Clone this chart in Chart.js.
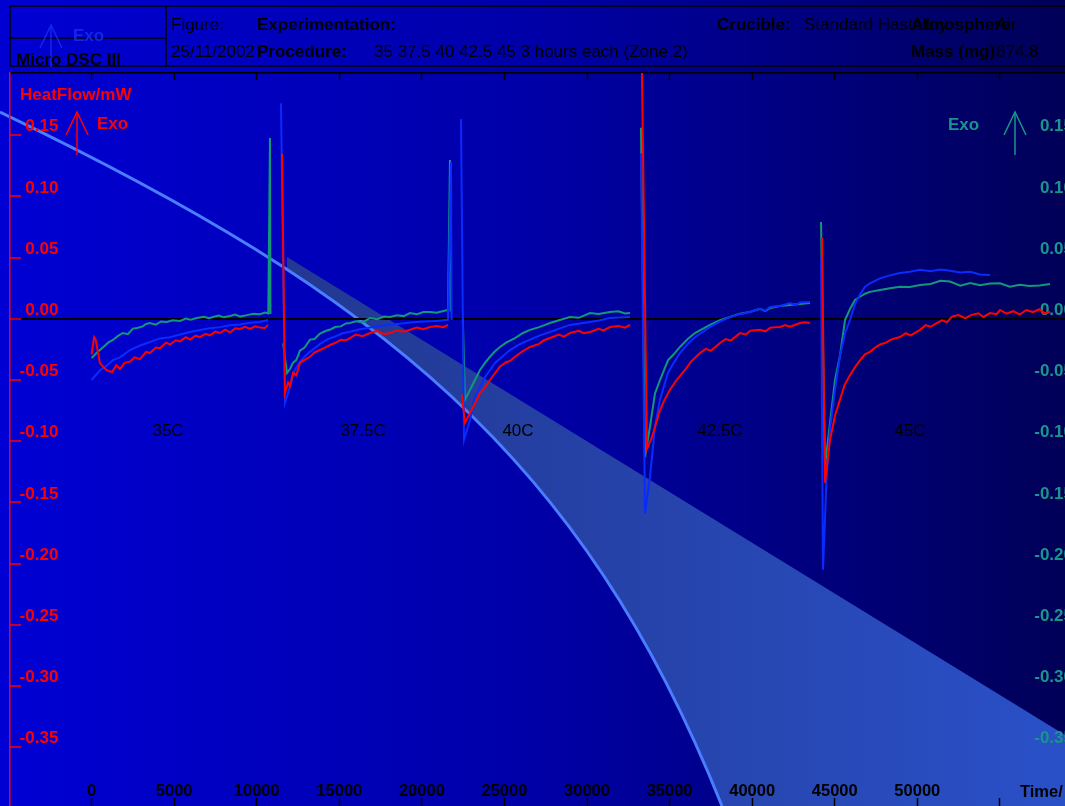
<!DOCTYPE html>
<html>
<head>
<meta charset="utf-8">
<title>Micro DSC III - isothermal steps</title>
<script src="https://cdn.jsdelivr.net/npm/chart.js@4.4.1/dist/chart.umd.min.js"></script>
<style>
  html, body { margin: 0; padding: 0; background: #0000a8; overflow: hidden; }
  #wrap { width: 1065px; height: 806px; position: relative; }
  canvas { display: block; }
</style>
</head>
<body>
<div id="wrap"><canvas id="dsc" width="1065" height="806"></canvas></div>
<script>
// ---- Heat flow traces (time in s, heat flow in mW); null breaks the line between zones ----
const redTrace = [
  [0,-0.029],[150,-0.015],[250,-0.017],[500,-0.036],[690,-0.039],[900,-0.042],[1235,-0.0435],[1500,-0.038],
  [1720,-0.041],[2000,-0.036],[2325,-0.035],[2600,-0.0315],[2931,-0.033],[3300,-0.027],[3536,-0.028],[3900,-0.0235],
  [4142,-0.024],[4500,-0.0195],[4747,-0.021],[5100,-0.0175],[5353,-0.0185],[5700,-0.015],[5959,-0.017],[6300,-0.0138],
  [6564,-0.015],[6900,-0.0122],[7170,-0.0135],[7500,-0.0105],[7775,-0.0116],[8100,-0.0088],[8381,-0.0112],[8700,-0.0078],
  [8987,-0.0083],[9300,-0.0065],[9592,-0.0083],[9900,-0.0061],[10197,-0.0072],[10500,-0.0075],[10682,-0.005],[11000,null],
  [11530,0.135],[11711,-0.0606],[11900,-0.052],[12014,-0.055],[12200,-0.044],[12400,-0.046],[12620,-0.036],[12900,-0.0335],
  [13225,-0.031],[13500,-0.0275],[13831,-0.0255],[14200,-0.0232],[14500,-0.021],[14739,-0.0198],[15100,-0.0172],[15400,-0.0175],
  [15648,-0.0157],[16000,-0.0128],[16400,-0.0142],[16859,-0.0116],[17300,-0.0098],[17700,-0.0125],[18070,-0.0116],[18500,-0.0095],
  [18900,-0.0105],[19281,-0.009],[19700,-0.0072],[20100,-0.0085],[20492,-0.0067],[20900,-0.0059],[21300,-0.0068],[21582,-0.005],[21900,null],
  [22420,-0.062],[22611,-0.085],[22914,-0.077],[23217,-0.069],[23520,-0.0606],[23823,-0.056],[24125,-0.05],[24428,-0.0445],
  [24731,-0.039],[25100,-0.0355],[25337,-0.0345],[25640,-0.031],[26100,-0.0265],[26548,-0.023],[27100,-0.0205],[27400,-0.0175],
  [27759,-0.0157],[28300,-0.0128],[28600,-0.0145],[28970,-0.0116],[29500,-0.0098],[29800,-0.0118],[30181,-0.0108],[30700,-0.0082],
  [31000,-0.0095],[31392,-0.0067],[31900,-0.0058],[32300,-0.0072],[32603,-0.005],[32900,null],
  [33269,0.26],[33632,-0.106],[33935,-0.0967],[34419,-0.0745],[34700,-0.066],[35025,-0.058],[35400,-0.0505],[35933,-0.0418],
  [36300,-0.035],[36841,-0.028],[37200,-0.0245],[37500,-0.0262],[38053,-0.0198],[38400,-0.0165],[38700,-0.0178],[39264,-0.0116],
  [39600,-0.0128],[39900,-0.0098],[40475,-0.009],[40800,-0.0102],[41100,-0.0072],[41686,-0.0067],[42000,-0.0052],[42300,-0.0064],
  [42897,-0.0034],[43200,-0.0028],[43503,-0.0034],[43800,null],
  [44230,0.066],[44411,-0.134],[44714,-0.099],[45018,-0.079],[45320,-0.066],[45600,-0.054],[45925,-0.046],[46231,-0.0395],
  [46531,-0.034],[46830,-0.029],[47136,-0.027],[47450,-0.0235],[47742,-0.021],[48100,-0.0195],[48400,-0.017],[48953,-0.0149],
  [49300,-0.0118],[49600,-0.0135],[50164,-0.009],[50500,-0.0052],[50800,-0.0065],[51200,-0.0034],[51500,-0.0012],[51800,-0.0028],
  [52100,0.0018],[52500,0.003],[52900,0.0005],[53300,0.0032],[53700,0.0045],[54000,0.0015],[54400,0.0047],[54800,0.0038],
  [55009,0.0072],[55400,0.0042],[55800,0.0062],[56200,0.0035],[56600,0.0072],[57000,0.0055],[57400,0.0078],[57700,0.0045],[58037,0.0056]
];

const greenTrace = [
  [0,-0.032],[300,-0.028],[509,-0.0255],[800,-0.022],[1000,-0.0195],[1296,-0.0173],[1600,-0.014],[1901,-0.0116],
  [2200,-0.0125],[2500,-0.008],[2749,-0.0075],[3100,-0.0062],[3300,-0.0042],[3536,-0.0034],[3900,-0.0048],[4200,-0.0022],
  [4566,-0.0026],[4900,-0.0012],[5353,-0.0018],[5700,0.0002],[6000,-0.0008],[6382,0.0007],[6800,0.0016],[7100,0.0004],
  [7352,0.0015],[7700,0.0026],[8000,0.0012],[8381,0.0023],[8700,0.0034],[9000,0.0018],[9410,0.003],[9800,0.0042],
  [10197,0.0038],[10500,0.0051],[10700,0.0044],[10803,0.1477],[10830,0.004],[11200,null],
  [11600,-0.02],[11832,-0.0443],[12014,-0.041],[12196,-0.036],[12400,-0.0335],[12620,-0.026],[12900,-0.0235],[13225,-0.017],
  [13500,-0.0165],[13831,-0.012],[14200,-0.0098],[14500,-0.0085],[14739,-0.0067],[15100,-0.0062],[15400,-0.0038],[15648,-0.0034],
  [16000,-0.0021],[16400,-0.0029],[16859,0.0007],[17300,-0.0004],[17700,0.0019],[18070,0.0015],[18500,0.0028],[18900,0.0022],
  [19281,0.0047],[19700,0.0038],[20100,0.0055],[20492,0.0056],[20900,0.0049],[21300,0.0064],[21582,0.0072],[21703,0.1297],[21740,0.006],[22000,null],
  [22480,0.0],[22611,-0.0663],[22914,-0.058],[23217,-0.05],[23520,-0.0418],[23823,-0.036],[24125,-0.031],[24428,-0.0265],
  [24731,-0.023],[25100,-0.0195],[25640,-0.0157],[26100,-0.0118],[26548,-0.009],[27100,-0.0068],[27759,-0.0034],[28300,-0.0012],
  [28970,0.0015],[29500,0.0008],[30181,0.0047],[30700,0.0039],[31392,0.0056],[31900,0.0062],[32300,0.0044],[32603,0.0047],[32900,null],
  [33269,0.156],[33511,-0.113],[33814,-0.088],[34116,-0.061],[34419,-0.05],[34904,-0.034],[35250,-0.029],[35630,-0.023],
  [36100,-0.0165],[36539,-0.0116],[37000,-0.0082],[37447,-0.005],[38053,-0.0012],[38658,0.0015],[39264,0.0042],[39870,0.0056],
  [40475,0.0081],[40800,0.0063],[41081,0.0088],[41686,0.0104],[42292,0.0113],[42897,0.0121],[43503,0.0129],[43800,null],
  [44169,0.079],[44411,-0.12],[44714,-0.085],[45018,-0.05],[45320,-0.03],[45623,-0.001],[45925,0.008],[46228,0.0154],
  [46531,0.018],[46830,0.0205],[47136,0.022],[47742,0.0235],[48347,0.025],[48953,0.0262],[49550,0.026],[50164,0.0276],
  [50800,0.0285],[51400,0.031],[51981,0.0305],[52600,0.027],[53200,0.0292],[53800,0.0275],[54403,0.0288],[55009,0.029],
  [55600,0.0262],[56200,0.0278],[56800,0.0268],[57400,0.0273],[58037,0.0285]
];

const blueTrace = [
  [0,-0.05],[509,-0.042],[900,-0.0385],[1296,-0.0337],[1720,-0.0315],[2325,-0.0255],[2900,-0.022],[3536,-0.019],
  [4142,-0.016],[4747,-0.015],[5353,-0.0128],[5959,-0.0108],[6564,-0.0092],[7170,-0.0078],[7775,-0.0068],[8381,-0.0052],
  [8987,-0.0046],[9592,-0.0032],[10197,-0.0026],[10682,-0.001],[11000,null],
  [11469,0.176],[11711,-0.0688],[12014,-0.0556],[12300,-0.042],[12620,-0.035],[12900,-0.031],[13225,-0.027],[13531,-0.0238],
  [13831,-0.0205],[14285,-0.0168],[14739,-0.0145],[15193,-0.0118],[15648,-0.0105],[16253,-0.0085],[16859,-0.0072],[17464,-0.0058],
  [18070,-0.0048],[18675,-0.004],[19281,-0.0031],[19886,-0.0025],[20492,-0.0021],[21037,-0.0015],[21582,-0.0008],[21764,0.128],[21800,-0.001],[22000,null],
  [22369,0.163],[22551,-0.099],[22914,-0.0827],[23217,-0.064],[23823,-0.0477],[24428,-0.036],[25337,-0.0255],[25900,-0.021],
  [26548,-0.017],[27150,-0.0135],[27759,-0.0108],[28360,-0.0078],[28970,-0.005],[29575,-0.0038],[30181,-0.0026],[30786,-0.0012],
  [31392,0.0007],[31997,0.0011],[32603,0.0015],[32900,null],
  [33269,0.135],[33511,-0.159],[33814,-0.129],[34116,-0.088],[34419,-0.066],[34904,-0.044],[35250,-0.036],[35630,-0.028],
  [36100,-0.0205],[36539,-0.015],[37000,-0.0108],[37447,-0.0067],[38053,-0.0022],[38658,0.0015],[39264,0.0038],[39870,0.0056],
  [40475,0.0082],[40800,0.0065],[41081,0.0096],[41686,0.0105],[42292,0.0129],[42600,0.0112],[42897,0.0133],[43503,0.0137],[43800,null],
  [44169,0.05],[44290,-0.205],[44500,-0.132],[44714,-0.09],[45018,-0.058],[45320,-0.03],[45623,-0.012],[45925,-0.001],
  [46228,0.012],[46531,0.02],[46830,0.026],[47136,0.029],[47742,0.033],[48347,0.0355],[48953,0.0374],[49550,0.0385],
  [50164,0.04],[50800,0.0388],[51400,0.0402],[51981,0.0392],[52600,0.0378],[53200,0.0385],[53800,0.0362],[54403,0.0358]
];

// ---- Isothermal zone captions ----
const zoneNames = ['35C', '37.5C', '40C', '42.5C', '45C'];
const zoneCaptionTimes = [4630, 16440, 25820, 38050, 49550];
const zoneCaptionLevel = -0.0917;

// ---- Axis ranges and tick values ----
const timeRange = [-4940, 58944];
const heatRange = [-0.398, 0.2008];
const timeTicks = [0, 5000, 10000, 15000, 20000, 25000, 30000, 35000, 40000, 45000, 50000, 55000];
const timeTickLabels = ['0', '5000', '10000', '15000', '20000', '25000', '30000', '35000', '40000', '45000', '50000', ''];
const heatTicks = [0.15, 0.10, 0.05, 0.00, -0.05, -0.10, -0.15, -0.20, -0.25, -0.30, -0.35];
const heatTickLabels = ['0.15', '0.10', '0.05', '0.00', '-0.05', '-0.10', '-0.15', '-0.20', '-0.25', '-0.30', '-0.35'];

const FONT = "'Liberation Sans', Arial, Helvetica, sans-serif";
const RED = '#ff0000';
const TEAL_LINE = '#12977a';
const TEAL_TEXT = '#17968c';
const BLUE = '#0a2bff';

const toXY = (trace) => trace.map(([t, v]) => ({ x: t, y: v }));
const setTicks = (values) => (s) => { s.ticks = values.map((v) => ({ value: v })); };
const timeLabel = (v, i) => timeTickLabels[i];
const heatLabel = (v, i) => heatTickLabels[i];
const noPad = (s) => { s.paddingLeft = 0; s.paddingRight = 0; s.paddingTop = 0; s.paddingBottom = 0; };

// Slide-style backdrop: horizontal gradient plus a light swoosh band
const backdrop = {
  id: 'backdrop',
  afterLayout(chart) {
    // the right-hand heat-flow labels run past the canvas edge
    const r = chart.scales.y1;
    r.left += 8;
    r.right += 8;
  },
  beforeDraw(chart) {
    const { ctx, width: W, height: H } = chart;
    const sx = W / 1065, sy = H / 806;
    ctx.save();
    const g = ctx.createLinearGradient(0, 0, W, 0);
    g.addColorStop(0, '#0000d4');
    g.addColorStop(0.5, '#0000a8');
    g.addColorStop(1, '#000058');
    ctx.fillStyle = g;
    ctx.fillRect(0, 0, W, H);

    const swoosh = (c) => {
      c.moveTo(0, 112 * sy);
      c.bezierCurveTo(380 * sx, 294 * sy, 582 * sx, 456 * sy, 722 * sx, 806 * sy);
    };
    ctx.save();
    ctx.beginPath();
    ctx.moveTo(287 * sx, 257 * sy);
    ctx.lineTo(W, 735 * sy);
    ctx.lineTo(W, H);
    ctx.lineTo(287 * sx, H);
    ctx.closePath();
    ctx.clip();
    ctx.beginPath();
    swoosh(ctx);
    ctx.lineTo(W, H);
    ctx.lineTo(W, 0);
    ctx.lineTo(0, 0);
    ctx.closePath();
    const bg = ctx.createLinearGradient(287 * sx, 0, W, 0);
    bg.addColorStop(0, '#223891');
    bg.addColorStop(1, '#2a50c8');
    ctx.fillStyle = bg;
    ctx.fill();
    ctx.restore();

    ctx.beginPath();
    swoosh(ctx);
    ctx.strokeStyle = '#4a7dff';
    ctx.lineWidth = 3;
    ctx.stroke();
    ctx.restore();
  }
};

// Header block, axis captions, Exo arrows and zone captions
const annotations = {
  id: 'annotations',
  afterDraw(chart) {
    const { ctx } = chart;
    const xs = chart.scales.x, ys = chart.scales.y;
    const text = (s, x, y, weight, color, size, align) => {
      ctx.font = `${weight} ${size || 17}px ${FONT}`;
      ctx.fillStyle = color;
      ctx.textAlign = align || 'left';
      ctx.textBaseline = 'alphabetic';
      ctx.fillText(s, x, y);
    };
    const line = (pts, color, w) => {
      ctx.beginPath();
      ctx.moveTo(pts[0][0], pts[0][1]);
      for (let i = 1; i < pts.length; i++) ctx.lineTo(pts[i][0], pts[i][1]);
      ctx.strokeStyle = color;
      ctx.lineWidth = w;
      ctx.stroke();
    };
    const arrow = (x, top, bottom, color) => {
      line([[x, bottom], [x, top]], color, 1.5);
      line([[x - 11, top + 23], [x, top], [x + 11, top + 23]], color, 1.5);
    };
    ctx.save();

    // header table
    line([[10, 6], [1065, 6]], '#000', 1.5);
    line([[10, 66], [1065, 66]], '#000', 1.5);
    line([[10, 6], [10, 66]], '#000', 1.5);
    line([[166, 6], [166, 66]], '#000', 1.5);
    line([[10, 38], [166, 38]], '#000', 1.5);

    // faint marker in the instrument cell
    arrow(51, 25, 67, '#1426e6');
    text('Exo', 73, 41, 'bold', '#1426e6');
    text('Micro DSC III', 16, 65, 'bold', '#000');

    text('Figure:', 171, 30, 'normal', '#000');
    text('Experimentation:', 257, 30, 'bold', '#000');
    text('Crucible:', 717, 30, 'bold', '#000');
    text('Standard Hastelloy', 804, 30, 'normal', '#000');
    text('Atmosphere', 911, 30, 'bold', '#000');
    text('Air', 996, 30, 'normal', '#000');
    text('25/11/2002', 171, 57, 'normal', '#000');
    text('Procedure:', 257, 57, 'bold', '#000');
    text('35 37.5 40 42.5 45 3 hours each (Zone 2)', 374, 57, 'normal', '#000');
    text('Mass (mg)', 911, 57, 'bold', '#000');
    text('674.8', 996, 57, 'normal', '#000');

    // axis captions
    text('HeatFlow/mW', 20, 100, 'bold', RED);
    arrow(77, 112, 155, RED);
    text('Exo', 97, 129, 'bold', RED);
    arrow(1015, 112, 155, TEAL_TEXT);
    text('Exo', 948, 130, 'bold', TEAL_TEXT);
    text('Time/', 1020, 797, 'bold', '#000', 16.5);

    // zone captions
    ctx.textBaseline = 'middle';
    zoneNames.forEach((name, i) => {
      ctx.font = `normal 17px ${FONT}`;
      ctx.fillStyle = '#000';
      ctx.textAlign = 'center';
      ctx.fillText(name, xs.getPixelForValue(zoneCaptionTimes[i]), ys.getPixelForValue(zoneCaptionLevel));
    });
    ctx.restore();
  }
};

new Chart(document.getElementById('dsc'), {
  type: 'line',
  data: {
    datasets: [
      { label: 'Run 1', data: toXY(redTrace), yAxisID: 'y', borderColor: RED, borderWidth: 2 },
      { label: 'Run 3', data: toXY(blueTrace), yAxisID: 'y', borderColor: BLUE, borderWidth: 2 },
      { label: 'Run 2', data: toXY(greenTrace), yAxisID: 'y1', borderColor: TEAL_LINE, borderWidth: 2 }
    ]
  },
  options: {
    responsive: false,
    animation: false,
    devicePixelRatio: 1,
    layout: { padding: { top: 73, left: 0, right: 0, bottom: 0 } },
    spanGaps: false,
    elements: { point: { radius: 0, hoverRadius: 0 }, line: { tension: 0, fill: false } },
    plugins: { legend: { display: false }, tooltip: { enabled: false } },
    scales: {
      x: {
        type: 'linear', position: 'bottom', min: timeRange[0], max: timeRange[1],
        afterBuildTicks: setTicks(timeTicks),
        afterFit: (s) => { s.height = 0; noPad(s); },
        border: { display: false },
        grid: { drawOnChartArea: false, tickLength: -8, tickColor: '#000', tickWidth: 1.5 },
        ticks: {
          autoSkip: false, maxRotation: 0, minRotation: 0,
          mirror: true, padding: 5, color: '#000', font: { family: FONT, size: 16.5, weight: 'bold' },
          callback: timeLabel
        }
      },
      xTop: {
        type: 'linear', axis: 'x', position: 'top', min: timeRange[0], max: timeRange[1],
        afterBuildTicks: setTicks(timeTicks),
        afterFit: (s) => { s.height = 0; noPad(s); },
        border: { display: true, color: '#000', width: 1.5 },
        grid: { drawOnChartArea: false, tickLength: -7, tickColor: '#000', tickWidth: 1.5 },
        ticks: { autoSkip: false, maxRotation: 0, callback: () => '' }
      },
      y: {
        type: 'linear', position: 'left', min: heatRange[0], max: heatRange[1],
        afterBuildTicks: setTicks(heatTicks),
        afterFit: (s) => { s.width = 10; noPad(s); },
        border: { display: true, color: RED, width: 1.5 },
        grid: {
          drawOnChartArea: true, tickLength: -11, tickWidth: 1.5, lineWidth: 2,
          color: (c) => (Math.abs(c.tick.value) < 1e-9 ? '#000' : 'rgba(0,0,0,0)'),
          tickColor: RED
        },
        ticks: {
          autoSkip: false,
          mirror: true, crossAlign: 'far', padding: 9.6, labelOffset: -8.5,
          color: RED, font: { family: FONT, size: 17, weight: 'bold' },
          callback: heatLabel
        }
      },
      y1: {
        type: 'linear', position: 'right', min: heatRange[0], max: heatRange[1],
        afterBuildTicks: setTicks(heatTicks),
        afterFit: (s) => { s.width = 0; noPad(s); },
        border: { display: false },
        grid: { display: false },
        ticks: {
          autoSkip: false,
          mirror: true, padding: 0, labelOffset: -8.5,
          color: TEAL_TEXT, font: { family: FONT, size: 17, weight: 'bold' },
          callback: heatLabel
        }
      }
    }
  },
  plugins: [backdrop, annotations]
});
</script>
</body>
</html>
